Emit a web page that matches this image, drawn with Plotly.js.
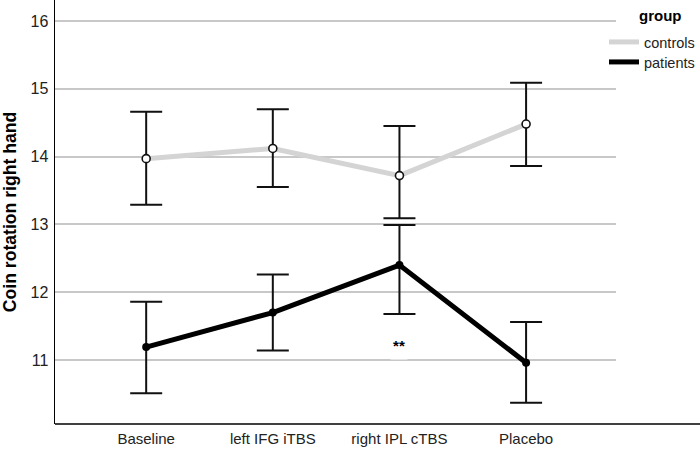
<!DOCTYPE html>
<html>
<head>
<meta charset="utf-8">
<script src="https://cdn.plot.ly/plotly-3.0.1.min.js"></script>
<style>body{margin:0;padding:0;background:#fff;} #chart{width:700px;height:449px;}</style>
</head>
<body>
<div id="chart"></div>
<script>
var categories = ["Baseline", "left IFG iTBS", "right IPL cTBS", "Placebo"];
var controlsMean = [13.97, 14.12, 13.72, 14.48];
var controlsUpper = [14.66, 14.70, 14.45, 15.09];
var controlsLower = [13.29, 13.55, 13.09, 13.86];
var patientsMean = [11.19, 11.70, 12.40, 10.96];
var patientsUpper = [11.86, 12.26, 12.99, 11.56];
var patientsLower = [10.51, 11.14, 11.68, 10.37];
var yTicks = [11, 12, 13, 14, 15, 16];
var sigLabel = "**";
var sigCategory = "right IPL cTBS";
var sigValue = 11;

function diff(a, b) { return a.map(function (v, i) { return v - b[i]; }); }

var font = "Liberation Sans, Arial, sans-serif";

var traces = [
  {
    x: categories, y: controlsMean, type: "scatter", mode: "lines+markers",
    showlegend: false,
    line: { color: "#d4d4d4", width: 5 },
    marker: { symbol: "circle", size: 8, color: "#fff", line: { width: 1.6, color: "#111" } },
    error_y: { type: "data", symmetric: false, array: diff(controlsUpper, controlsMean), arrayminus: diff(controlsMean, controlsLower), color: "#111", thickness: 2, width: 16 }
  },
  {
    x: categories, y: patientsMean, type: "scatter", mode: "lines+markers",
    showlegend: false,
    line: { color: "#000", width: 5 },
    marker: { symbol: "circle", size: 8, color: "#000" },
    error_y: { type: "data", symmetric: false, array: diff(patientsUpper, patientsMean), arrayminus: diff(patientsMean, patientsLower), color: "#111", thickness: 2, width: 16 }
  },
  { x: [null], y: [null], type: "scatter", mode: "lines", name: "controls", legend: "legend", line: { color: "#d4d4d4", width: 5 } },
  { x: [null], y: [null], type: "scatter", mode: "lines", name: "patients", legend: "legend2", line: { color: "#000", width: 5 } }
];

function legendAt(topPx) {
  return {
    x: 0.9786, xanchor: "left", y: 1 - topPx / 424, yanchor: "top",
    xref: "paper", yref: "paper",
    bgcolor: "rgba(0,0,0,0)",
    font: { size: 14.5, color: "#222" },
    itemwidth: 30
  };
}

var layout = {
  width: 700, height: 449,
  margin: { l: 55, r: 84, t: 0, b: 25, autoexpand: false },
  paper_bgcolor: "#fff", plot_bgcolor: "#fff",
  font: { family: font, color: "#222", size: 14 },
  xaxis: {
    type: "category", range: [-0.72, 3.71],
    showgrid: false, zeroline: false, showline: false,
    ticks: "", tickfont: { size: 15, color: "#222" }, ticklabelstandoff: 4
  },
  yaxis: {
    range: [10.056, 16.31], tickvals: yTicks,
    showgrid: true, gridcolor: "#c8c8c8", gridwidth: 2,
    zeroline: false, showline: true, linecolor: "#000", linewidth: 1.5,
    ticks: "", tickfont: { size: 16, color: "#222" }, ticklabelstandoff: 2,
    title: { text: "<b>Coin rotation right hand</b>", font: { size: 17.6, color: "#000" }, standoff: 11 }
  },
  shapes: [
    { type: "line", xref: "paper", yref: "paper", x0: 0, x1: 645 / 561, y0: 0, y1: 0, line: { color: "#000", width: 1.5 } }
  ],
  annotations: [
    { x: sigCategory, y: sigValue, xref: "x", yref: "y", yanchor: "bottom", valign: "top", height: 22, width: 16, text: "<b>" + sigLabel + "</b>", showarrow: false, bgcolor: "#fff", borderpad: 0, font: { size: 15, color: "#000" } },
    { x: (660 - 55) / 561, y: (424 - 16) / 424, xref: "paper", yref: "paper", xanchor: "center", yanchor: "middle", text: "<b>group</b>", showarrow: false, font: { size: 15, color: "#000" } }
  ],
  legend: legendAt(26),
  legend2: legendAt(46)
};

Plotly.newPlot("chart", traces, layout, { displayModeBar: false, staticPlot: true });
</script>
</body>
</html>
